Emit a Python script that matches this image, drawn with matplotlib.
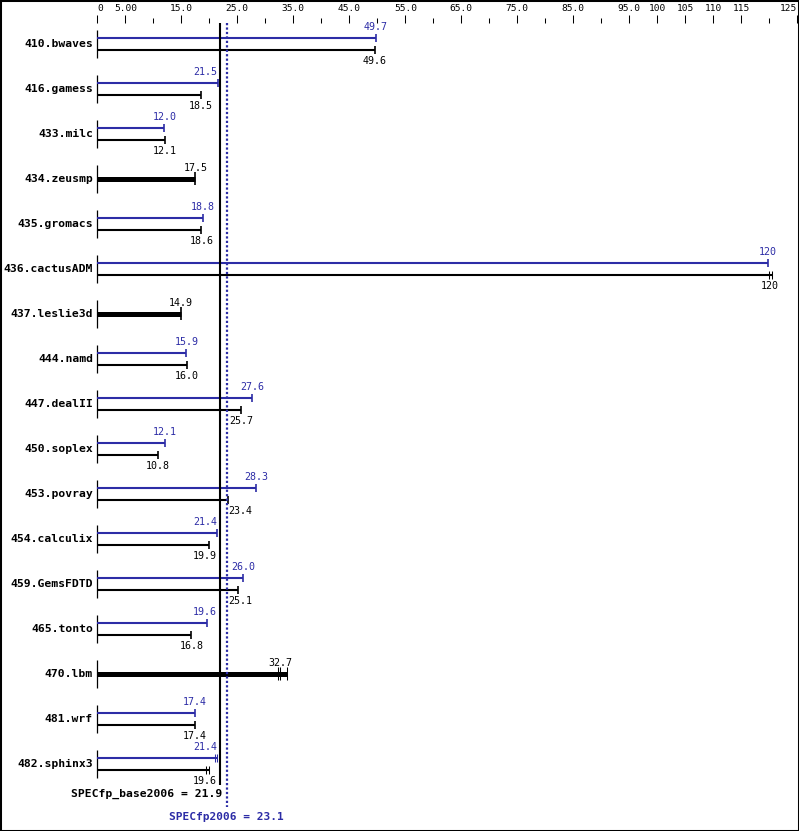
import matplotlib.pyplot as plt
from matplotlib.patches import Rectangle

benchmarks = ["410.bwaves", "416.gamess", "433.milc", "434.zeusmp", "435.gromacs",
              "436.cactusADM", "437.leslie3d", "444.namd", "447.dealII", "450.soplex",
              "453.povray", "454.calculix", "459.GemsFDTD", "465.tonto", "470.lbm",
              "481.wrf", "482.sphinx3"]
base = [49.6, 18.5, 12.1, 17.5, 18.6, 120.0, 14.9, 16.0, 25.7, 10.8, 23.4, 19.9,
        25.1, 16.8, 32.7, 17.4, 19.6]
peak = [49.7, 21.5, 12.0, None, 18.8, 119.7, None, 15.9, 27.6, 12.1, 28.3, 21.4,
        26.0, 19.6, None, 17.4, 21.4]
# individual runs where more than one end mark is visible
base_runs = {"436.cactusADM": [120.0, 120.4], "470.lbm": [32.3, 32.7, 33.8],
             "482.sphinx3": [19.5, 19.95]}
peak_runs = {"482.sphinx3": [21.1, 21.45]}
specfp_base = 21.9
specfp_peak = 23.1

major_ticks = [0, 5, 15, 25, 35, 45, 55, 65, 75, 85, 95, 100, 105, 110, 115, 125]
major_labels = ["0", "5.00", "15.0", "25.0", "35.0", "45.0", "55.0", "65.0", "75.0",
                "85.0", "95.0", "100", "105", "110", "115", "125"]
minor_ticks = [10, 20, 30, 40, 50, 60, 70, 80, 90, 120]

blue = "#2c2ca6"
mono = "DejaVu Sans Mono"

W, H = 799, 831
fig = plt.figure(figsize=(W / 100, H / 100), dpi=100)
top_px = 23
ax = fig.add_axes([0, 0, 1, (H - top_px) / H])
ppu, x0 = 5.6, 97.3
ax.set_xlim(-x0 / ppu, (W - x0) / ppu)
row_px, row0 = 45, 43.8
ax.set_ylim((H - row0) / row_px, (top_px - row0) / row_px)


def dy(px):
    return px / row_px


for s in ax.spines.values():
    s.set_visible(False)
ax.set_yticks([])
ax.xaxis.tick_top()
ax.set_xticks(major_ticks, labels=major_labels, fontsize=6.8, family=mono)
ax.set_xticks(minor_ticks, minor=True)
ax.tick_params(axis="x", which="major", direction="out", length=5.8, width=0.75, pad=1.5)
ax.tick_params(axis="x", which="minor", direction="out", length=3.6, width=0.75)
lbls = ax.get_xticklabels()
lbls[0].set_ha("left")
lbls[-1].set_ha("right")

lo, hi = (217 - x0) / ppu, (228 - x0) / ppu
hw = 11.7 / ppu


def fmt(v):
    return f"{v:.0f}" if v >= 99.95 else f"{v:.1f}"


def value_label(v, y, color):
    if v - hw < hi and v + hw > lo:
        if v < (lo + hi) / 2:
            x, ha = lo, "right"
        else:
            x, ha = hi, "left"
    else:
        x, ha = v, "center"
    ax.text(x, y, fmt(v), ha=ha, va="center", fontsize=7.2, family=mono, color=color)


def end_marks(runs, y, half, color):
    lw = 1.2 if len(runs) == 1 else 0.75
    ax.vlines(runs, y - dy(half), y + dy(half), color=color, lw=lw)


n = len(benchmarks)
for i, name in enumerate(benchmarks):
    ax.text(-4.3 / ppu, i, name, ha="right", va="center", fontsize=8.2,
            family=mono, weight="bold", color="black")
    ax.vlines(0, i - dy(14), i + dy(14), color="black", lw=0.9)
    b_runs = base_runs.get(name, [base[i]])
    if peak[i] is None:
        ax.hlines(i, 0, max(b_runs), color="black", lw=3.6)
        end_marks(b_runs, i, 6.5, "black")
        value_label(base[i], i - dy(11), "black")
    else:
        p_runs = peak_runs.get(name, [peak[i]])
        yp, yb = i - dy(6), i + dy(6)
        ax.hlines(yp, 0, max(p_runs), color=blue, lw=1.5)
        end_marks(p_runs, yp, 4, blue)
        ax.hlines(yb, 0, max(b_runs), color="black", lw=1.5)
        end_marks(b_runs, yb, 4, "black")
        value_label(peak[i], yp - dy(11), blue)
        value_label(base[i], yb + dy(11), "black")

ymin = ax.get_ylim()[1]
ax.vlines(specfp_base, ymin, n - 1 + 0.47, color="black", lw=1.5, clip_on=False)
ax.vlines(specfp_peak, ymin, n - 1 + 0.95, color=blue, lw=1.6,
          linestyles=(0, (1, 1)), clip_on=False)
ax.text(specfp_base + 0.35, n - 1 + 0.67, f"SPECfp_base2006 = {specfp_base}",
        ha="right", va="center", fontsize=8.2, family=mono, weight="bold", color="black")
ax.text(specfp_peak, n - 1 + 1.18, f"SPECfp2006 = {specfp_peak}",
        ha="center", va="center", fontsize=8.0, family=mono, weight="bold", color=blue)

fig.patches.append(Rectangle((0, 0), 1, 1, transform=fig.transFigure, fill=False,
                             edgecolor="black", lw=2.2))

fig.savefig("out.png", dpi=100, facecolor="white")
